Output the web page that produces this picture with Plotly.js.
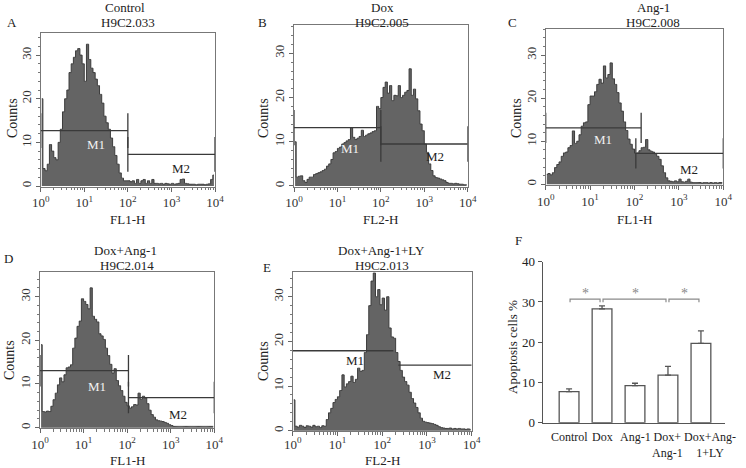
<!DOCTYPE html>
<html><head><meta charset="utf-8">
<script src="https://cdn.plot.ly/plotly-3.0.1.min.js"></script>
<style>html,body{margin:0;padding:0;background:#fff}#chart{width:746px;height:468px}</style>
</head><body><div id="chart"></div>
<script>
// ---------- data (counts per channel, 20 channels per decade, 10^0..10^4) ----------
const countsA = [20,4,3.5,5,9.5,8,6.5,6,10,13, 17,20,22,26,28,29.5,31,31.5,30,28, 24,32.5,29,27,26,24.5,23,21,19,16, 14.5,13,11,9,7,5,3,1.8,1.2,1.2, 1.2,1,1.2,0.6,1.5,0.6,1.2,1.5,0.6,1.2, 0.6,1.5,0.6,0.6,0.5,0.6,0.4,0.6,0.5,0.4, 0.6,0.4,0.5,0.6,1.5,1.6,0.6,0.5,0.4,0.4, 0.4,0.3,0.4,0.4,0.4,0.3,0.4,0.5,1.5,2.5];
const countsB = [10,2,2.2,2.3,1.2,0.8,1.5,2,2,2.6, 2.8,3,3.2,3.5,3.8,4.5,5,6,7.5,7.8, 8.5,8.8,9.5,9.8,10.2,10.5,13.2,11,10.5,10.8, 11.2,12.6,11.2,11.5,11.8,12,12.3,12.5,18,17.5, 20,22.3,23.5,21,22.7,19.3,20.5,20.4,22.7,20, 20.5,21.2,21.6,26.5,20.5,21.9,19.7,17,14,12.5, 9.5,7.6,5,3.5,2.3,1.9,1.8,1.6,1.4,1.2, 0.8,0.6,0.6,0.5,0.6,0.5,0.4,0.4,0.3,0.3];
const countsC = [2.3,2.5,2.2,2.7,3.9,4.6,5.2,6.5,7.3,7.5, 8.5,9,12.4,9.5,10,11.5,13.5,14.3,14.5,18.5, 20.5,20.5,21.5,23.2,24.4,23.5,27.5,24.7,25.5,28.2, 24.5,23.2,21.3,18.9,17,14.5,12.5,10.5,9.3,8.2, 7.2,7.3,7.8,8.5,8.6,10.4,8,7.7,7.5,7, 6.5,5.8,4.3,2.7,1.5,0.8,0.7,0.6,0.8,0.6, 1.2,0.6,0.5,0.7,1.2,0.5,0.4,0.4,0.4,0.4, 0.3,0.4,0.4,0.3,0.4,0.3,0.4,0.3,0.4,0.4];
const countsD = [19,3.7,3.6,3.8,3.7,4.9,6.4,7.9,9.8,11.4, 10.5,12.1,13.7,13.9,14.4,18.2,20.5,23.2,24.4,29.5, 28.9,28.2,27.2,32,25.5,24.8,24.2,21.5,21,20.2, 18.2,16.5,14.5,12.5,13.5,10.8,9.6,8.5,7.2,5.8, 5,4.5,4.8,5.3,5.2,7.9,6.5,7.2,6.8,5.5, 4,3,2.4,1.8,1.6,1.5,1.4,1.2,1,0.7, 0.5,0.3,0.3,0.3,0.3,0.3,0.3,0.3,0.3,0.3, 0.3,0.3,0.3,0.3,0.3,0.3,0.3,0.3,0.3,0.3];
const countsE = [6.9,1,0.8,1.2,1,0.7,1.1,1,0.8,1.2, 0.9,1,0.7,1.1,1,2.5,4,5,6.3,7, 7.6,9,12.5,9.8,10.5,11,12.2,10.8,11.5,14, 13.3,13.5,17.5,21.5,28,33.5,35.3,30,31.6,28.2, 29.7,27,30,23,21,20.7,17.5,15.5,13.5,12, 11,10.2,8.6,7.2,6.2,5.2,4,2.8,2.1,1.9, 1.8,1.7,1.6,1.4,1.2,0.9,0.7,0.6,0.5,0.5, 0.6,0.4,0.5,0.4,0.5,0.4,0.4,0.3,0.4,0.3];

// gates: [start decade, end decade, count level]
const m1A = [0, 2.0, 12.7],  m2A = [2.0, 4, 7.25];
const m1B = [0, 2.0, 13.2],  m2B = [2.0, 4, 9.5];
const m1C = [0, 2.15, 13.1], m2C = [2.03, 4, 7.2];
const m1D = [0, 2.03, 13.05], m2D = [2.03, 4, 6.9];
const m1E = [0, 2.25, 17.9], m2E = [2.36, 4, 14.7];

const groupNames = ['Control', 'Dox', 'Ang-1', 'Dox+Ang-1', 'Dox+Ang-1+LY'];
const groupTickLabels = ['Control', 'Dox', 'Ang-1', 'Dox+<br>Ang-1', 'Dox+Ang-<br>1+LY'];
const apoptosisPct = [7.7, 28.3, 9.2, 11.8, 19.7];
const apoptosisErr = [0.7, 0.7, 0.6, 2.2, 3.1];
const sigPairs = [[0, 1], [1, 3], [3, 4]];
const sigLevel = 30.7;

const decadeTicks = [0, 1, 2, 3, 4];
const decadeLabels = ['10<sup>0</sup>', '10<sup>1</sup>', '10<sup>2</sup>', '10<sup>3</sup>', '10<sup>4</sup>'];

// ---------- layout helpers ----------
const W = 746, H = 468;
const SERIF = 'Liberation Serif';
const BPD = 20;
const xd = (l, r) => [l / W, r / W];
const yd = (t, b) => [1 - b / H, 1 - t / H];
const minorX = [];
for (let d = 0; d < 4; d++) for (let k = 2; k <= 9; k++) minorX.push(d + Math.log10(k));

const panels = [
  {s: '',  counts: countsA, m1: m1A, m2: m2A, box: [40.7, 215, 33.3, 186.7], yr: [-0.16, 35.0], tick: 4, so: 0,
   letter: ['A', 12, 22.5], t1: ['Control', 125, 7.5], t2: ['H9C2.033', 128, 22.5], xl: ['FL1-H', 219], yl: [12, 118],
   m1lab: [1.28, 9.4, '#f2f2f2'], m2lab: [3.23, 3.9, '#222']},
  {s: '2', counts: countsB, m1: m1B, m2: m2B, box: [294, 467.7, 25, 186.7], yr: [-0.16, 36.4], tick: 4, so: 0,
   letter: ['B', 262, 22.5], t1: ['Dox', 382, 7.5], t2: ['H9C2.005', 382, 22.5], xl: ['FL2-H', 219], yl: [263, 118],
   m1lab: [1.29, 8.5, '#f2f2f2'], m2lab: [3.25, 6.6, '#222']},
  {s: '3', counts: countsC, m1: m1C, m2: m2C, box: [545.7, 723.3, 29.3, 185], yr: [-0.16, 36.0], tick: 3.5, so: 0,
   letter: ['C', 512, 22.5], t1: ['Ang-1', 653, 7.5], t2: ['H9C2.008', 653, 22.5], xl: ['FL1-H', 219], yl: [516, 118],
   m1lab: [1.3, 10.3, '#f2f2f2'], m2lab: [3.23, 3.5, '#222']},
  {s: '4', counts: countsD, m1: m1D, m2: m2D, box: [40, 214.3, 271.7, 428.3], yr: [-0.14, 35.7], tick: 3.6, so: 0,
   letter: ['D', 8, 258], t1: ['Dox+Ang-1', 125, 250], t2: ['H9C2.014', 127, 265], xl: ['FL1-H', 460.5], yl: [9, 360],
   m1lab: [1.3, 9.4, '#f2f2f2'], m2lab: [3.17, 3.1, '#222']},
  {s: '5', counts: countsE, m1: m1E, m2: m2E, box: [292.7, 471.7, 271.7, 431], yr: [-0.07, 35.6], tick: 0, so: -3,
   letter: ['E', 267, 267], t1: ['Dox+Ang-1+LY', 381, 250], t2: ['H9C2.013', 382, 265], xl: ['FL2-H', 460.5], yl: [263, 361],
   m1lab: [1.39, 15.8, '#222'], m2lab: [3.33, 12.5, '#222']}
];

const data = [];
const layout = {
  width: W, height: H, margin: {l: 0, r: 0, t: 0, b: 0},
  paper_bgcolor: '#fff', plot_bgcolor: '#fff', showlegend: false,
  font: {family: SERIF, size: 13, color: '#333'},
  annotations: [], shapes: []
};
const ann = (text, px, py, opts = {}) => Object.assign({
  text, x: px / W, y: 1 - py / H, xref: 'paper', yref: 'paper', showarrow: false, borderpad: 0,
  xanchor: 'center', yanchor: 'middle', font: {family: SERIF, size: 13, color: '#222'}
}, opts);

panels.forEach(p => {
  const xa = 'x' + p.s, ya = 'y' + p.s;
  data.push({
    type: 'scatter', mode: 'lines', x0: 0.5 / BPD, dx: 1 / BPD, y: p.counts,
    line: {shape: 'hvh', color: '#3c3c3c', width: 1}, fill: 'tozeroy', fillcolor: '#646464',
    xaxis: xa, yaxis: ya, hoverinfo: 'skip'
  });
  const mx = [], my = [];
  [p.m1, p.m2].forEach(m => {
    const h = p.tick;
    if (h > 0) { mx.push(m[0], m[0], null); my.push(m[2] - h, m[2] + h, null); }
    mx.push(m[0], m[1], null); my.push(m[2], m[2], null);
    if (h > 0) { mx.push(m[1], m[1], null); my.push(m[2] - h, m[2] + h, null); }
  });
  data.push({type: 'scatter', mode: 'lines', x: mx, y: my, line: {color: '#3a3a3a', width: 1.3},
    xaxis: xa, yaxis: ya, hoverinfo: 'skip', connectgaps: false});

  layout['xaxis' + p.s] = {
    domain: xd(p.box[0], p.box[1]), anchor: ya, range: [0, 4],
    showline: true, mirror: true, linecolor: '#777', linewidth: 1,
    showgrid: false, zeroline: false,
    tickmode: 'array', tickvals: decadeTicks, ticktext: decadeLabels,
    ticks: 'outside', ticklen: 4, tickcolor: '#666', ticklabelstandoff: p.so,
    tickfont: {family: SERIF, size: 13, color: '#333'},
    minor: {tickmode: 'array', tickvals: minorX, ticks: 'outside', ticklen: 2.5, tickcolor: '#777', showgrid: false}
  };
  layout['yaxis' + p.s] = {
    domain: yd(p.box[2], p.box[3]), anchor: xa, range: p.yr,
    showline: true, mirror: true, linecolor: '#777', linewidth: 1,
    showgrid: false, zeroline: false,
    tickmode: 'linear', tick0: 0, dtick: 10, tickangle: -90,
    ticks: 'outside', ticklen: 4, tickcolor: '#666',
    tickfont: {family: SERIF, size: 13, color: '#333'},
    minor: {tickmode: 'linear', tick0: 0, dtick: 2, ticks: 'outside', ticklen: 2, tickcolor: '#777', showgrid: false}
  };
  layout.annotations.push(
    ann(p.letter[0], p.letter[1], p.letter[2]),
    ann(p.t1[0], p.t1[1], p.t1[2]),
    ann(p.t2[0], p.t2[1], p.t2[2]),
    ann(p.xl[0], (p.box[0] + p.box[1]) / 2, p.xl[1], {font: {family: SERIF, size: 13, color: '#222'}}),
    ann('Counts', p.yl[0], p.yl[1], {textangle: -90, font: {family: SERIF, size: 14, color: '#222'}}),
    {text: 'M1', x: p.m1lab[0], y: p.m1lab[1], xref: xa, yref: ya, showarrow: false, borderpad: 0,
     font: {family: SERIF, size: 13, color: p.m1lab[2]}},
    {text: 'M2', x: p.m2lab[0], y: p.m2lab[1], xref: xa, yref: ya, showarrow: false, borderpad: 0,
     font: {family: SERIF, size: 13, color: p.m2lab[2]}}
  );
});

// ---------- panel F ----------
data.push({
  type: 'bar', x: groupNames, y: apoptosisPct, width: 0.6,
  marker: {color: '#fff', line: {color: '#555', width: 1.3}},
  error_y: {type: 'data', symmetric: false, array: apoptosisErr, arrayminus: apoptosisErr.map(() => 0),
            color: '#555', thickness: 1.3, width: 3},
  xaxis: 'x6', yaxis: 'y6', hoverinfo: 'skip'
});
layout.xaxis6 = {
  domain: xd(542.7, 725), anchor: 'y6', type: 'category', range: [-0.8, 4.73],
  showline: true, linecolor: '#555', linewidth: 1.2, ticks: '', showgrid: false, zeroline: false,
  showticklabels: false
};
layout.yaxis6 = {
  domain: yd(261.7, 422.7), anchor: 'x6', range: [0, 40],
  showline: true, linecolor: '#555', linewidth: 1.2, showgrid: false, zeroline: false,
  tickmode: 'linear', tick0: 0, dtick: 10, ticks: 'outside', ticklen: 4, tickcolor: '#555',
  tickfont: {family: SERIF, size: 13, color: '#222'}
};
// category labels under the bars
groupNames.forEach((g, i) => {
  layout.annotations.push({
    text: groupTickLabels[i], x: g, xref: 'x6', y: 1 - 429 / H, yref: 'paper',
    xanchor: 'center', yanchor: 'top', align: 'center', showarrow: false, borderpad: 0,
    xshift: i === groupNames.length - 1 ? 9 : 0,
    font: {family: SERIF, size: 12, color: '#222'}
  });
});
sigPairs.forEach(([i, j]) => {
  const a = i + 0.03, b = j - 0.06;
  layout.shapes.push({type: 'path', xref: 'x6', yref: 'y6',
    path: `M ${a},${sigLevel - 0.8} L ${a},${sigLevel} L ${b},${sigLevel} L ${b},${sigLevel - 0.8}`,
    line: {color: '#8a8a8a', width: 1.2}});
  layout.annotations.push({text: '*', x: (i + j) / 2, y: sigLevel + 1.3, xref: 'x6', yref: 'y6',
    showarrow: false, borderpad: 0, font: {family: SERIF, size: 14, color: '#888'}});
});
layout.annotations.push(
  ann('F', 518, 241),
  ann('Apoptosis cells %', 512, 347, {textangle: -90})
);

Plotly.newPlot('chart', data, layout, {staticPlot: true, displayModeBar: false});
</script>
</body></html>
